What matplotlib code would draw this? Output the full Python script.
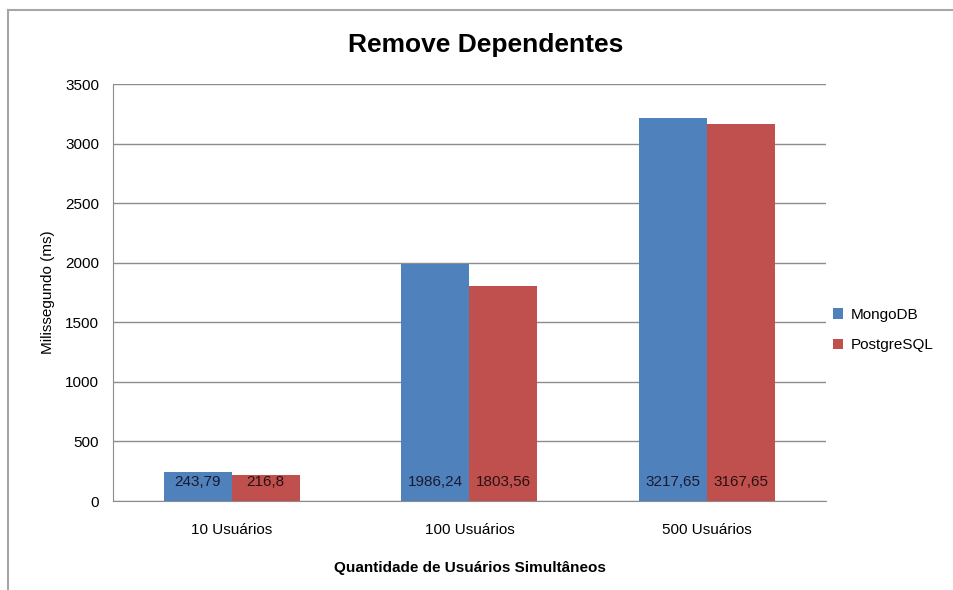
import matplotlib
matplotlib.use("Agg")
import matplotlib.pyplot as plt
from matplotlib.lines import Line2D
import numpy as np

plt.rcParams['font.family'] = ['Liberation Sans Narrow', 'Liberation Sans', 'DejaVu Sans']

categories = ["10 Usuários", "100 Usuários", "500 Usuários"]
mongodb = [243.79, 1986.24, 3217.65]
postgresql = [216.8, 1803.56, 3167.65]
mongodb_labels = ["243,79", "1986,24", "3217,65"]
postgresql_labels = ["216,8", "1803,56", "3167,65"]

blue = "#4F81BD"
red = "#C0504D"

fig = plt.figure(figsize=(9.54, 5.9), dpi=100)
ax = fig.add_axes([0.1184, 0.1508, 0.7474, 0.7068])

x = np.arange(len(categories))
width = 0.286
b1 = ax.bar(x - width / 2, mongodb, width, color=blue, label="MongoDB", zorder=3)
b2 = ax.bar(x + width / 2, postgresql, width, color=red, label="PostgreSQL", zorder=3)

# values shown inside the base of each bar
for rect, txt in zip(b1, mongodb_labels):
    ax.text(rect.get_x() + rect.get_width() / 2, 160, txt, ha="center", va="center",
            fontsize=11, color="#1a1a2e", zorder=4)
for rect, txt in zip(b2, postgresql_labels):
    ax.text(rect.get_x() + rect.get_width() / 2, 160, txt, ha="center", va="center",
            fontsize=11, color="#2a1010", zorder=4)

ax.set_xlim(-0.5, 2.5)
ax.set_ylim(0, 3500)
ax.set_yticks(np.arange(0, 3501, 500))
ax.set_xticks(x)
ax.set_xticklabels(categories, fontsize=11)
ax.tick_params(axis="both", length=0, labelsize=11)
ax.tick_params(axis="x", pad=16)
ax.tick_params(axis="y", pad=10)
ax.grid(axis="y", color="#8c8c8c", linewidth=1, zorder=0)

for s in ["top", "right"]:
    ax.spines[s].set_visible(False)
for s in ["left", "bottom"]:
    ax.spines[s].set_color("#8c8c8c")

ax.set_ylabel("Milissegundo (ms)", fontsize=11, labelpad=7)
ax.set_xlabel("Quantidade de Usuários Simultâneos", fontsize=11, fontweight="bold", labelpad=17)
fig.text(0.509, 0.924, "Remove Dependentes", ha="center", va="center",
         fontsize=19, fontweight="bold")

ax.legend(loc="center left", bbox_to_anchor=(0.99, 0.41), frameon=False, fontsize=11,
          handlelength=0.7, handleheight=0.7, handletextpad=0.5, labelspacing=1.1)

# outer chart frame
fig.add_artist(Line2D([0.008, 0.008], [0.0, 0.983], color="#a6a6a6", linewidth=1.5,
                      transform=fig.transFigure))
fig.add_artist(Line2D([0.008, 1.0], [0.983, 0.983], color="#a6a6a6", linewidth=1.5,
                      transform=fig.transFigure))

fig.savefig("out.png", dpi=100)
